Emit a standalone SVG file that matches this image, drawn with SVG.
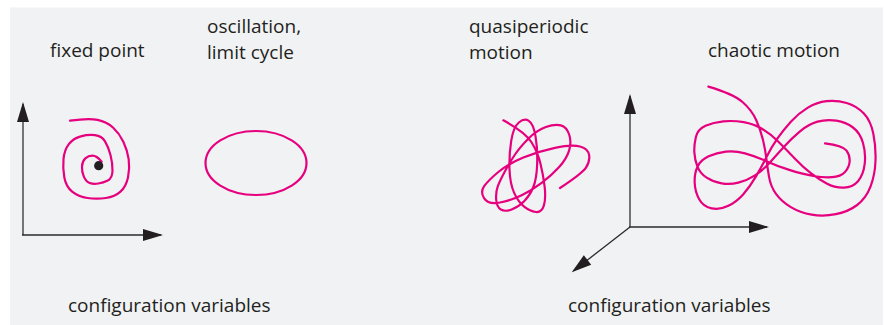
<svg xmlns="http://www.w3.org/2000/svg" width="884" height="325" viewBox="0 0 884 325">
  <style>
    .lbl { font-family: "Open Sans", "Noto Sans", "Liberation Sans", sans-serif; font-size: 19px; fill: #231f20; }
    .traj { fill: none; stroke: #e6007e; stroke-width: 2.2; stroke-linecap: round; stroke-linejoin: round; }
    .axv { stroke: #6e6e6e; stroke-width: 1.9; fill: none; }
    .axh { stroke: #2a2a2a; stroke-width: 1.3; fill: none; }
  </style>
  <defs>
    <marker id="ah" markerUnits="userSpaceOnUse" markerWidth="20" markerHeight="12" refX="18" refY="6" orient="auto" overflow="visible">
      <path d="M0,0 L20,6 L0,12 Z" fill="#231f20"/>
    </marker>
  </defs>

  <rect id="background" x="10" y="7.5" width="873" height="320" fill="#f1f2f4"/>

  <g id="labels">
    <text class="lbl" x="50" y="57">fixed point</text>
    <text class="lbl" x="207" y="33">oscillation,</text>
    <text class="lbl" x="207" y="59">limit cycle</text>
    <text class="lbl" x="469" y="33">quasiperiodic</text>
    <text class="lbl" x="469" y="59">motion</text>
    <text class="lbl" x="708" y="57">chaotic motion</text>
    <text class="lbl" x="68" y="312">configuration variables</text>
    <text class="lbl" x="568" y="312">configuration variables</text>
  </g>

  <g id="axes-left">
    <line class="axv" x1="23" y1="235" x2="23" y2="104" marker-end="url(#ah)"/>
    <line class="axh" x1="22" y1="235" x2="161" y2="235" marker-end="url(#ah)"/>
  </g>

  <g id="axes-right">
    <line class="axv" x1="630" y1="227" x2="630" y2="96" marker-end="url(#ah)"/>
    <line class="axh" x1="629" y1="227" x2="767" y2="227" marker-end="url(#ah)"/>
    <line class="axh" x1="630" y1="227" x2="573.3" y2="271" marker-end="url(#ah)"/>
  </g>

  <g id="fixed-point">
    <path class="traj" vector-effect="non-scaling-stroke" transform="scale(0.33333)" d="M210,362 Q265,354 292.5,359.5 Q320,365 339,382.5 Q358,400 370,425 Q382,450 386,477.5 Q390,505 384,532.5 Q378,560 361.5,575 Q345,590 317.5,594 Q290,598 262.5,594 Q235,590 216.5,575 Q198,560 193,532.5 Q188,505 190.5,477.5 Q193,450 206.5,432.5 Q220,415 242.5,409 Q265,403 285,405.5 Q305,408 315,424 Q325,440 331.5,465 Q338,490 337.5,512.5 Q337,535 323.5,541.5 Q310,548 295,550.5 Q280,553 269,549 Q258,545 251.5,530 Q245,515 246,499 Q247,483 256,475 Q265,467 277.5,467 Q290,467 305,485"/>
    <circle cx="98.7" cy="165.7" r="4.6" fill="#231f20"/>
  </g>

  <g id="limit-cycle">
    <ellipse class="traj" cx="256" cy="163" rx="50.5" ry="32"/>
  </g>

  <g id="quasiperiodic">
    <path class="traj" vector-effect="non-scaling-stroke" transform="translate(475,112) scale(0.33333)" d="M85,25 Q150,60 169,90 Q188,120 196.5,155 Q205,190 209,225 Q213,260 206.5,281 Q200,302 182.5,300 Q165,298 147.5,284 Q130,270 117.5,242.5 Q105,215 103.5,172.5 Q102,130 108.5,87.5 Q115,45 131.5,31.5 Q148,18 161.5,26.5 Q175,35 181.5,72.5 Q188,110 186.5,155 Q185,200 175,225 Q165,250 147.5,267.5 Q130,285 110,292.5 Q90,300 77.5,292.5 Q65,285 63.5,262.5 Q62,240 68.5,222.5 Q75,205 90,177.5 Q105,150 120,127.5 Q135,105 160,80 Q185,55 212.5,45 Q240,35 257.5,40 Q275,45 282.5,67.5 Q290,90 282.5,115 Q275,140 252.5,165 Q230,190 200,212.5 Q170,235 140,250 Q110,265 75,271.5 Q40,278 27.5,259 Q15,240 27.5,222.5 Q40,205 70,180 Q100,155 145,136.5 Q190,118 240,107.5 Q290,97 315,103.5 Q340,110 342.5,130 Q345,150 332.5,167.5 Q320,185 255,228"/>
  </g>

  <g id="chaotic">
    <path class="traj" vector-effect="non-scaling-stroke" transform="translate(680,80) scale(0.33333)" d="M85,20 Q160,42 187.5,66 Q215,90 228.5,120 Q242,150 249,180 Q256,210 259,235 Q262,260 267,290 Q272,320 288.5,342.5 Q305,365 332.5,381.5 Q360,398 395,404 Q430,410 467.5,402.5 Q505,395 531.5,375 Q558,355 571.5,320 Q585,285 586.5,242.5 Q588,200 580,161 Q572,122 551,100 Q530,78 500,69 Q470,60 440,63.5 Q410,67 382.5,83.5 Q355,100 332.5,125 Q310,150 292.5,175 Q275,200 260,230 Q245,260 227.5,290 Q210,320 190,342.5 Q170,365 145,377.5 Q120,390 95,385 Q70,380 57.5,357.5 Q45,335 44,307.5 Q43,280 52.5,260 Q62,240 86,229 Q110,218 137.5,215 Q165,212 195,220 Q225,228 257.5,243 Q290,258 330,270.5 Q370,283 400,288 Q430,293 456,291.5 Q482,290 495,276 Q508,262 509,243.5 Q510,225 499,211 Q488,197 435,190 M43,216.5 Q42,195 47.5,171.5 Q53,148 76.5,137.5 Q100,127 130,124 Q160,121 191,126.5 Q222,132 247,147 Q272,162 296,186 Q320,210 345,236 Q370,262 392.5,279.5 Q415,297 440,310.5 Q465,324 491.5,323 Q518,322 534,303.5 Q550,285 554,252.5 Q558,220 549,189 Q540,158 519,142.5 Q498,127 469,122 Q440,117 412.5,125 Q385,133 360,154 Q335,175 313.5,198.5 Q292,222 271,246 Q250,270 225,286 Q200,302 175,308 Q150,314 125,310 Q100,306 80,293 Q60,280 52,259 Q44,238 43,216.5 Z"/>
  </g>
</svg>
